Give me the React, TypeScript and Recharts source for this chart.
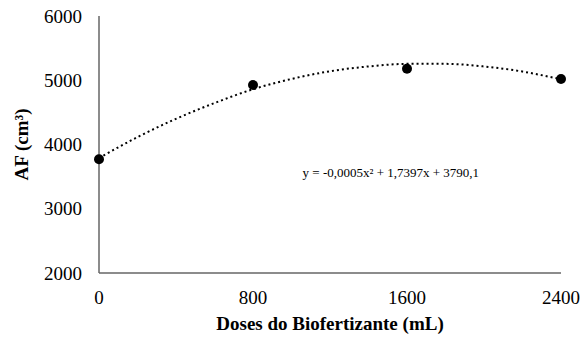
import {
  ComposedChart,
  Scatter,
  Line,
  XAxis,
  YAxis,
  Label,
  ReferenceDot,
} from 'recharts'

// observed values (dose in mL -> AF in cm³)
const doses = [0, 800, 1600, 2400]
const afValues = [3770, 4925, 5180, 5020]

// dotted polynomial trendline, every 200 mL
const trendDoses = [0, 200, 400, 600, 800, 1000, 1200, 1400, 1600, 1800, 2000, 2200, 2400]
const trendValues = [3790, 4115, 4400, 4645, 4860, 5020, 5140, 5215, 5255, 5255, 5215, 5135, 5015]

const xTicks = [0, 800, 1600, 2400]
const yTicks = [2000, 3000, 4000, 5000, 6000]

const equation = 'y = -0,0005x² + 1,7397x + 3790,1'

const FONT = '"Liberation Serif", "Times New Roman", serif'
const AXIS = '#666'

export default function App() {
  const points = doses.map((x, i) => ({ x, y: afValues[i] }))
  const trend = trendDoses.map((x, i) => ({ x, y: trendValues[i] }))

  return (
    <div style={{ position: 'absolute', left: 0, top: 0, background: '#fff' }}>
      <ComposedChart
        width={582}
        height={340}
        margin={{ top: 16, right: 21, left: 0, bottom: 37 }}
        style={{ fontFamily: FONT }}
      >
        <XAxis
          type="number"
          dataKey="x"
          domain={[0, 2400]}
          ticks={xTicks}
          tickLine={false}
          axisLine={{ stroke: AXIS, strokeWidth: 1.5 }}
          tick={{ fill: '#000', fontSize: 19, fontFamily: FONT }}
          tickMargin={12}
          height={30}
        >
          <Label
            value="Doses do Biofertizante (mL)"
            position="bottom"
            offset={14}
            style={{ fontWeight: 'bold', fontSize: 19, fill: '#000', fontFamily: FONT }}
          />
        </XAxis>
        <YAxis
          type="number"
          domain={[2000, 6000]}
          ticks={yTicks}
          tickLine={false}
          axisLine={{ stroke: AXIS, strokeWidth: 1.5 }}
          tick={{ fill: '#000', fontSize: 19, fontFamily: FONT }}
          tickMargin={11}
          width={99}
        >
          <Label
            value="AF (cm³)"
            angle={-90}
            position="insideLeft"
            offset={21}
            style={{ fontWeight: 'bold', fontSize: 19, fill: '#000', fontFamily: FONT, textAnchor: 'middle' }}
          />
        </YAxis>
        <Line
          data={trend}
          dataKey="y"
          type="monotone"
          stroke="#000"
          strokeWidth={2}
          strokeDasharray="2 3"
          dot={false}
          activeDot={false}
          isAnimationActive={false}
        />
        <Scatter
          data={points}
          dataKey="y"
          fill="#000"
          shape={(p: any) => <circle cx={p.cx} cy={p.cy} r={5} fill="#000" />}
          isAnimationActive={false}
        />
        <ReferenceDot
          x={1516}
          y={3572}
          r={0}
          ifOverflow="visible"
          label={{
            value: equation,
            position: 'center',
            style: { fontSize: 13, fill: '#000', fontFamily: FONT },
          }}
        />
      </ComposedChart>
    </div>
  )
}
